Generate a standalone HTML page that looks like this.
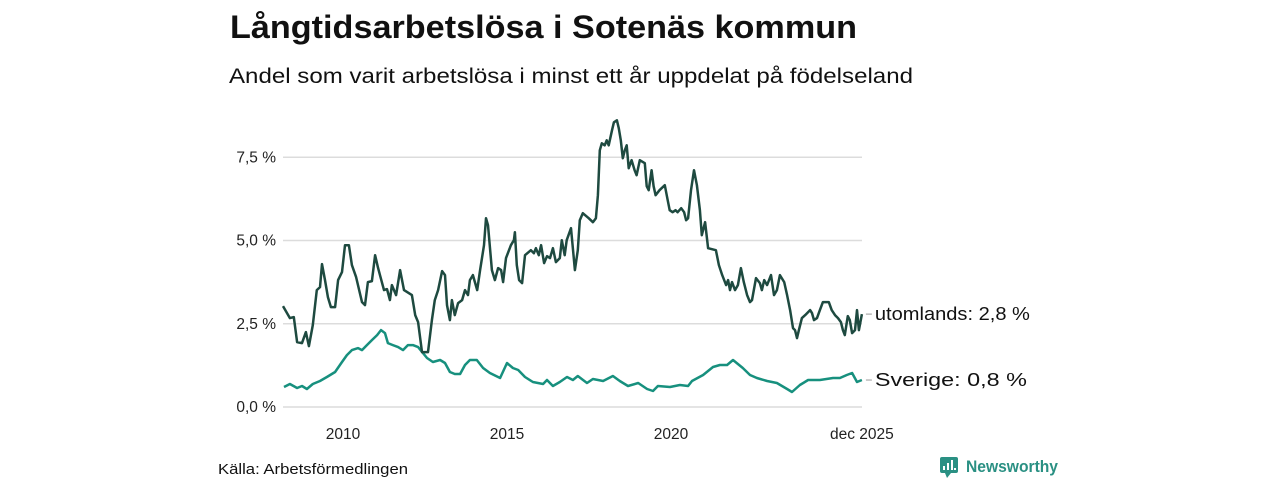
<!DOCTYPE html>
<html><head><meta charset="utf-8">
<style>
body{margin:0;background:#fff;font-family:"Liberation Sans",sans-serif;}
#wrap{position:relative;width:1280px;height:480px;overflow:hidden;}
</style></head>
<body><div id="wrap">
<svg id="svg" width="1280" height="480">
<text x="230" y="38" font-size="32" font-weight="bold" fill="#111" textLength="627" lengthAdjust="spacingAndGlyphs">Långtidsarbetslösa i Sotenäs kommun</text>
<text x="229" y="83" font-size="21" fill="#111" textLength="684" lengthAdjust="spacingAndGlyphs">Andel som varit arbetslösa i minst ett år uppdelat på födelseland</text>
<text x="218" y="474" font-size="15" fill="#111" textLength="190" lengthAdjust="spacingAndGlyphs">Källa: Arbetsförmedlingen</text>
<g>
<rect x="940" y="457" width="18" height="16" rx="2" fill="#2a9083"/>
<polygon points="945,473 951,473 947,478" fill="#2a9083"/>
<rect x="943" y="466" width="2" height="4" fill="#fff"/><rect x="947" y="463" width="2" height="7" fill="#fff"/><rect x="951" y="460" width="2" height="10" fill="#fff"/><rect x="954" y="468" width="2" height="2" fill="#fff"/>
<text x="966" y="472" font-size="17" font-weight="bold" fill="#2a9083" textLength="92" lengthAdjust="spacingAndGlyphs">Newsworthy</text>
</g>
<g id="grid"></g><g id="lines"></g><g id="labels"></g>
</svg></div>
<script>
const yTicks=[0,2.5,5,7.5];
const yTickLabels=["0,0 %","2,5 %","5,0 %","7,5 %"];
const xTicks=[2010,2015,2020,2025.82];
const xTickLabels=["2010","2015","2020","dec 2025"];
const utDates=[2008.17,2008.38,2008.50,2008.60,2008.75,2008.87,2008.96,2009.08,2009.20,2009.30,2009.36,2009.45,2009.54,2009.63,2009.76,2009.85,2009.97,2010.06,2010.18,2010.27,2010.40,2010.58,2010.67,2010.76,2010.88,2010.98,2011.07,2011.25,2011.34,2011.43,2011.49,2011.62,2011.74,2011.86,2012.10,2012.20,2012.29,2012.41,2012.59,2012.71,2012.80,2012.90,2013.02,2013.11,2013.17,2013.26,2013.32,2013.41,2013.51,2013.63,2013.72,2013.81,2013.87,2013.96,2014.09,2014.18,2014.30,2014.36,2014.42,2014.54,2014.63,2014.73,2014.82,2014.88,2014.97,2015.12,2015.21,2015.24,2015.30,2015.37,2015.46,2015.55,2015.73,2015.82,2015.88,2015.97,2016.04,2016.13,2016.22,2016.31,2016.40,2016.49,2016.61,2016.67,2016.76,2016.82,2016.95,2017.07,2017.16,2017.22,2017.31,2017.49,2017.62,2017.71,2017.77,2017.83,2017.89,2017.98,2018.04,2018.10,2018.20,2018.26,2018.35,2018.41,2018.47,2018.53,2018.59,2018.65,2018.71,2018.80,2018.89,2018.95,2019.05,2019.20,2019.26,2019.32,2019.41,2019.47,2019.53,2019.65,2019.81,2019.90,2019.96,2020.05,2020.14,2020.20,2020.31,2020.40,2020.46,2020.52,2020.61,2020.70,2020.79,2020.88,2020.94,2021.04,2021.13,2021.37,2021.46,2021.56,2021.68,2021.74,2021.80,2021.86,2021.95,2022.04,2022.13,2022.22,2022.32,2022.41,2022.47,2022.59,2022.71,2022.77,2022.84,2022.93,2023.05,2023.14,2023.23,2023.32,2023.45,2023.54,2023.63,2023.72,2023.78,2023.84,2023.90,2023.99,2024.09,2024.24,2024.30,2024.36,2024.45,2024.54,2024.63,2024.81,2024.90,2025.00,2025.09,2025.18,2025.24,2025.30,2025.39,2025.45,2025.52,2025.61,2025.67,2025.73,2025.82];
const utValues=[3.03,2.67,2.70,1.95,1.92,2.25,1.83,2.46,3.51,3.60,4.29,3.81,3.30,3.00,3.00,3.81,4.05,4.86,4.86,4.26,3.90,3.15,3.06,3.75,3.78,4.56,4.17,3.51,3.54,3.21,3.66,3.36,4.11,3.51,3.36,2.76,2.55,1.65,1.65,2.61,3.21,3.51,4.08,3.96,3.06,2.61,3.21,2.76,3.12,3.21,3.51,3.36,3.81,3.96,3.51,4.11,4.86,5.67,5.46,4.11,3.81,4.17,4.11,3.75,4.47,4.86,5.01,5.25,4.26,3.81,3.72,4.56,4.71,4.62,4.77,4.56,4.86,4.32,4.53,4.47,4.77,4.35,4.47,5.01,4.56,5.01,5.37,4.11,4.71,5.61,5.82,5.67,5.55,5.67,6.36,7.71,7.92,7.86,8.01,7.86,8.31,8.55,8.61,8.37,8.01,7.47,7.71,7.86,7.17,7.41,7.11,6.96,7.41,7.32,6.63,6.51,7.11,6.63,6.36,6.51,6.66,6.21,5.91,5.85,5.91,5.85,5.97,5.85,5.61,5.67,6.51,7.11,6.66,5.91,5.16,5.55,4.77,4.71,4.26,3.96,3.66,3.81,3.51,3.75,3.51,3.66,4.17,3.75,3.36,3.15,3.21,3.87,3.72,3.51,3.81,3.66,3.96,3.36,3.51,3.96,3.75,3.36,2.91,2.37,2.31,2.07,2.31,2.67,2.76,2.91,2.82,2.61,2.67,2.91,3.15,3.15,2.91,2.76,2.67,2.55,2.31,2.16,2.73,2.61,2.22,2.31,2.91,2.31,2.79];
const seDates=[2008.20,2008.38,2008.60,2008.75,2008.90,2009.08,2009.30,2009.51,2009.76,2009.97,2010.12,2010.27,2010.46,2010.58,2010.73,2010.88,2011.04,2011.16,2011.28,2011.37,2011.52,2011.68,2011.83,2011.98,2012.13,2012.29,2012.44,2012.56,2012.74,2012.96,2013.11,2013.26,2013.41,2013.57,2013.72,2013.87,2014.08,2014.27,2014.48,2014.79,2015.00,2015.18,2015.34,2015.55,2015.79,2016.10,2016.22,2016.40,2016.61,2016.83,2017.01,2017.16,2017.44,2017.62,2017.93,2018.23,2018.44,2018.69,2019.00,2019.27,2019.45,2019.60,2019.97,2020.27,2020.52,2020.64,2020.98,2021.28,2021.49,2021.71,2021.89,2022.04,2022.19,2022.41,2022.62,2022.93,2023.23,2023.54,2023.69,2023.93,2024.18,2024.54,2024.94,2025.15,2025.36,2025.52,2025.67,2025.82];
const seValues=[0.60,0.69,0.57,0.63,0.54,0.69,0.78,0.90,1.05,1.35,1.56,1.71,1.77,1.71,1.86,2.01,2.16,2.31,2.22,1.92,1.86,1.80,1.71,1.86,1.86,1.80,1.62,1.47,1.35,1.41,1.32,1.05,0.99,0.99,1.26,1.41,1.41,1.17,1.02,0.87,1.32,1.17,1.11,0.90,0.75,0.69,0.81,0.63,0.75,0.90,0.81,0.93,0.72,0.84,0.78,0.93,0.78,0.63,0.72,0.54,0.48,0.63,0.60,0.66,0.63,0.78,0.96,1.20,1.26,1.26,1.41,1.29,1.17,0.96,0.87,0.78,0.72,0.54,0.45,0.66,0.81,0.81,0.87,0.87,0.96,1.02,0.75,0.81];

const NS='http://www.w3.org/2000/svg';
const X=t=>343+(t-2010)*32.8;
const Y=v=>407-v*33.3;
function mk(tag,attrs,parent,txt){const e=document.createElementNS(NS,tag);for(const k in attrs)e.setAttribute(k,attrs[k]);if(txt!=null)e.textContent=txt;parent.appendChild(e);return e;}
const grid=document.getElementById('grid'),lines=document.getElementById('lines'),labels=document.getElementById('labels');
yTicks.forEach((v,i)=>{
  const l=mk('line',{x1:283,x2:862,y1:Y(v),y2:Y(v),stroke:'#dcdcdc','stroke-width':1.5},grid);
  
  
  const t=mk('text',{x:276,y:Y(v)+5,'font-size':15.5,'text-anchor':'end',fill:'#222'},labels,yTickLabels[i]);
  
  
});
xTicks.forEach((v,i)=>{
  const t=mk('text',{x:X(v),y:439,'font-size':15.5,'text-anchor':'middle',fill:'#222'},labels,xTickLabels[i]);
  
  
});
function path(d,v){return d.map((t,i)=>(i?'L':'M')+X(t).toFixed(1)+','+Y(v[i]).toFixed(1)).join('');}
const p1=mk('path',{d:path(seDates,seValues),fill:'none',stroke:'#17907e','stroke-width':2.5,'stroke-linejoin':'round'},lines);


const p2=mk('path',{d:path(utDates,utValues),fill:'none',stroke:'#1e4a40','stroke-width':2.5,'stroke-linejoin':'round'},lines);


function endLabel(dates,vals,txt,name,w){
  const x=X(dates[dates.length-1]),y=Y(vals[vals.length-1]);
  mk('line',{x1:x+4,x2:x+10,y1:y,y2:y,stroke:'#999','stroke-width':1},labels);
  const t=mk('text',{x:x+13,y:y+6,'font-size':18,fill:'#111',textLength:w,lengthAdjust:'spacingAndGlyphs'},labels,txt);
  
  
}
endLabel(utDates,utValues,'utomlands: 2,8 %','label-utomlands',155);
endLabel(seDates,seValues,'Sverige: 0,8 %','label-sverige',152);
</script>
</body></html>
